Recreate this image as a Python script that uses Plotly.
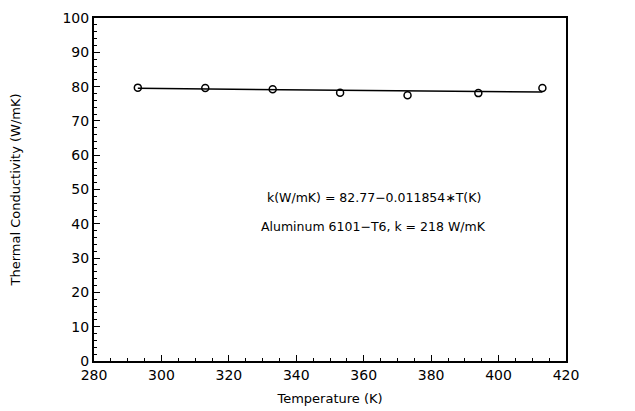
import plotly.graph_objects as go

temperature_K = [293, 313, 333, 353, 373, 394, 413]
conductivity = [79.7, 79.6, 79.2, 78.2, 77.5, 78.1, 79.6]
fit_x = [293, 413]
fit_y = [79.5, 78.4]
x_ticks = [280, 300, 320, 340, 360, 380, 400, 420]
y_ticks = [0, 10, 20, 30, 40, 50, 60, 70, 80, 90, 100]
label_fit = "k(W/mK) = 82.77\u22120.011854\u2217T(K)"
label_mat = "Aluminum 6101\u2212T6, k = 218 W/mK"

FONT = "DejaVu Sans"

fig = go.Figure()
fig.add_trace(go.Scatter(x=fit_x, y=fit_y, mode="lines",
                         line=dict(color="black", width=1.5), showlegend=False))
fig.add_trace(go.Scatter(x=temperature_K, y=conductivity, mode="markers",
                         marker=dict(symbol="circle-open", size=7, color="black",
                                     line=dict(width=1.5, color="black")),
                         showlegend=False))

fig.add_annotation(x=363, y=47.7, text=label_fit, showarrow=False,
                   font=dict(family=FONT, size=12.5, color="black"))
fig.add_annotation(x=363, y=39.2, text=label_mat, showarrow=False,
                   font=dict(family=FONT, size=12.5, color="black"))

axis_common = dict(showline=True, linecolor="black", linewidth=2, mirror=True,
                   showgrid=False, zeroline=False, ticks="inside", tickcolor="black",
                   ticklen=6, tickwidth=1.2, automargin=False, ticklabeloverflow="allow",
                   tickfont=dict(family=FONT, size=14, color="black"))

fig.update_xaxes(range=[280, 420], tickvals=x_ticks,
                 minor=dict(dtick=5, ticks="inside", ticklen=3, tickcolor="black"),
                 title=dict(text="Temperature (K)", font=dict(family=FONT, size=13, color="black"),
                            standoff=12),
                 **axis_common)
fig.update_yaxes(range=[0, 100], tickvals=y_ticks,
                 minor=dict(dtick=2, ticks="inside", ticklen=3, tickcolor="black"),
                 title=dict(text="Thermal Conductivity (W/mK)",
                            font=dict(family=FONT, size=13, color="black"), standoff=41),
                 **axis_common)

fig.update_layout(width=635, height=411, margin=dict(l=86, r=77, t=10, b=58),
                  plot_bgcolor="white", paper_bgcolor="white")

fig.write_html("out.html")
